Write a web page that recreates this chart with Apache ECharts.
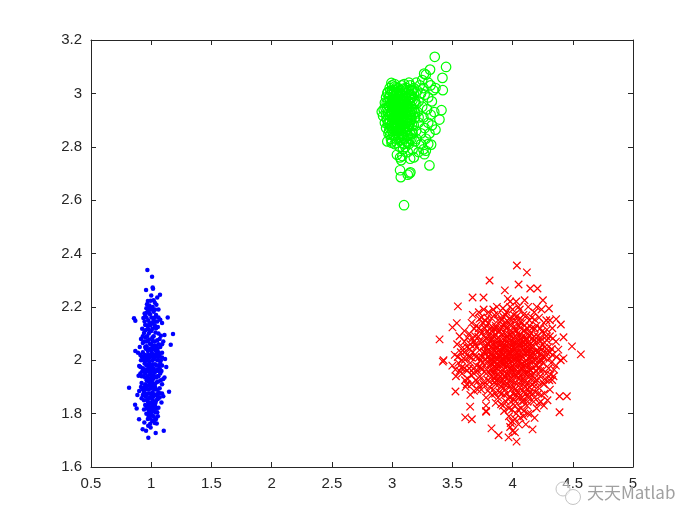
<!DOCTYPE html>
<html><head><meta charset="utf-8">
<style>html,body{margin:0;padding:0;background:#fff}#c{width:700px;height:525px}</style>
<script src="https://cdn.jsdelivr.net/npm/echarts@6/dist/echarts.min.js"></script></head>
<body><div id="c"></div>
<script>
const xTicks=[0.5,5];
const yTicks=[1.6,3.2];
const bluePoints=[[.968,2.338],[1.007,2.313],[1.012,2.273],[1.015,2.268],[.957,2.263],[1.073,2.245],[1.05,2.235],[1.0,2.243],[1.02,2.225],[.972,2.222],[.985,2.205],[1.043,2.208],[.96,2.195],[1.06,2.19],[.945,2.175],[1.02,2.182],[.99,2.172],[.935,2.158],[.857,2.157],[.868,2.148],[1.137,2.16],[1.075,2.152],[1.03,2.16],[.975,2.15],[1.09,2.14],[.95,2.132],[1.005,2.138],[.925,2.118],[1.055,2.125],[1.11,2.095],[1.181,2.098],[.985,2.112],[.94,2.102],[1.035,2.104],[1.08,2.092],[1.01,2.085],[.965,2.09],[.915,2.08],[1.05,2.075],[1.1,2.07],[1.162,2.058],[.93,2.065],[.99,2.062],[1.025,2.055],[1.075,2.05],[.905,2.05],[.955,2.043],[.868,2.035],[.89,2.028],[1.04,2.035],[1.005,2.028],[1.09,2.028],[.975,2.02],[.94,2.015],[1.06,2.012],[1.115,2.005],[.915,2.0],[1.02,2.004],[.985,1.995],[1.075,1.99],[.945,1.988],[.9,1.978],[1.045,1.98],[1.125,1.975],[1.005,1.972],[.965,1.965],[.925,1.958],[1.085,1.96],[1.03,1.955],[.99,1.948],[.895,1.942],[1.06,1.94],[.95,1.935],[1.11,1.935],[1.015,1.93],[.975,1.92],[1.045,1.918],[.92,1.915],[1.09,1.91],[.816,1.897],[.96,1.902],[1.002,1.9],[1.07,1.895],[1.025,1.89],[1.148,1.882],[.9,1.885],[.94,1.88],[.985,1.875],[.885,1.87],[1.055,1.872],[1.1,1.865],[1.015,1.862],[.92,1.858],[.965,1.852],[1.04,1.848],[1.085,1.842],[.995,1.838],[.866,1.833],[.95,1.832],[1.02,1.824],[1.06,1.822],[.879,1.819],[.98,1.812],[1.035,1.805],[.96,1.8],[1.005,1.795],[1.055,1.79],[.99,1.782],[.899,1.779],[1.02,1.775],[.943,1.767],[1.046,1.763],[.975,1.755],[.995,1.748],[.929,1.741],[.957,1.736],[1.104,1.736],[1.037,1.727],[.976,1.71],
[.98,2.1],[1.0,2.11],[1.02,2.09],[1.04,2.12],[.96,2.07],[.98,2.04],[1.0,2.06],[1.03,2.07],[.97,2.0],[1.01,2.0],[1.03,2.01],[.99,2.02],[.96,1.98],[1.0,1.96],[1.02,1.97],[.98,1.97],[1.04,1.96],[.97,1.94],[1.01,1.94],[.99,1.91],[1.03,1.91],[.95,1.96],[.98,1.89],[1.01,1.88],[.96,1.87],[1.04,1.87],[.99,1.86],[1.02,1.84],[.97,1.83],[1.0,1.82],[.93,2.03],[.94,2.0],[.93,1.97],[.92,1.94],[.93,1.89],[1.06,2.06],[1.07,2.02],[1.07,1.97],[1.06,1.92],[1.07,1.86],[.94,2.07],[1.06,2.1],[1.01,2.14],[.97,2.13],[1.0,2.19],[.98,2.18],[1.04,2.17],[1.03,2.13],[.96,2.16],[1.09,2.06],[1.09,1.98],[.91,2.02],[.91,1.95],[1.1,1.93],[.94,1.85],[.98,1.84],[1.03,1.83],[1.01,1.81],[.98,1.79],[1.02,1.79],[1.05,2.0],[.95,2.05],[1.0,2.04],[1.02,2.02],[.98,1.93],[1.05,1.94],[1.0,1.92],[1.0,1.86],[.95,1.91],[1.06,1.88]];
const blueCore=[[.972,2.118],[.992,2.13],[1.012,2.118],[1.032,2.144],[.952,2.112],[.972,2.072],[1.012,2.072],[1.042,2.052],[.962,2.052],[.982,2.078],[.972,2.035],[.992,2.044],[1.012,2.048],[1.03,2.04],[1.052,2.042],[.982,2.008],[1.002,2.014],[1.035,2.022],[.957,2.012],[.962,1.998],[.972,1.982],[.992,1.982],[1.012,1.985],[1.032,1.985],[1.052,1.965],[.982,1.96],[1.012,1.958],[.972,1.958],[1.022,1.942],[.992,1.932],[1.042,1.935],[1.002,1.945],[.962,1.925],[1.012,1.915],[.972,1.905],[1.032,1.9],[.992,1.895],[.952,1.89],[1.012,1.9],[1.045,1.89],[.972,1.875],[1.002,1.872],[1.03,1.872],[.982,1.858],[1.012,1.848],[1.052,1.858],[.952,1.865],[.972,1.845],[1.002,1.842],[1.035,1.84],[.985,1.825],[1.012,1.832],[.96,1.82],[1.04,1.82],[1.0,1.805],[1.018,1.81],[.985,1.8],[.972,1.78],[1.008,1.772],[.992,1.762],[1.03,1.765],[.982,2.2],[1.012,2.2],[1.032,2.19],[.972,2.19],[.962,2.178],[1.002,2.16],[1.02,2.15],[.985,2.14],[1.05,2.145],[.945,2.145],[.93,2.09],[.95,2.085],[1.07,2.08],[1.06,2.03],[1.08,2.0],[1.09,2.01],[.92,2.015],[.93,2.005],[.91,1.975],[.94,1.965],[1.075,1.95],[1.06,1.96],[1.08,1.925],[.935,1.94],[.915,1.9],[.945,1.9],[1.075,1.875],[1.09,1.875],[1.055,1.855],[.93,1.87],[.94,1.815],[1.05,1.805],[1.04,1.78],[.995,2.223],[1.03,2.215],[.965,2.21],[.95,2.165],[1.06,2.16],[.95,2.02],[1.05,2.02],[1.06,1.98],[.95,1.95]];
const greenPoints=[[3.354,3.137],[3.448,3.099],[3.315,3.089],[3.418,3.058],[3.266,3.074],[3.28,3.07],[3.25,3.05],[3.421,3.012],[3.343,3.012],[3.32,3.03],[3.3,3.04],[3.36,3.02],[3.41,2.937],[3.393,2.902],[3.36,2.864],[3.324,2.808],[3.268,2.772],[3.28,2.785],[3.31,2.73],[3.066,2.76],[3.085,2.765],[3.075,2.75],[3.066,2.712],[3.072,2.686],[3.144,2.70],[3.152,2.704],[3.13,2.695],[3.099,2.581],[2.994,3.039],[3.0,3.03],[2.914,2.931],[2.93,2.94],[2.925,2.915],[2.94,2.965],[2.95,2.985],[2.965,3.005],[2.98,3.02],[3.02,3.025],[3.05,3.02],[3.08,3.03],[3.12,3.02],[3.15,3.03],[3.18,3.02],[3.21,3.01],[3.24,3.0],[3.27,2.995],[3.3,2.985],[3.33,2.97],[3.22,2.97],[3.25,2.95],[3.29,2.94],[3.32,2.92],[3.35,2.93],[3.21,2.93],[3.26,2.91],[3.3,2.89],[3.33,2.88],[3.22,2.89],[3.27,2.87],[3.31,2.85],[3.24,2.85],[3.2,2.86],[3.28,2.83],[3.3,2.81],[3.24,2.81],[3.19,2.82],[3.26,2.79],[3.22,2.78],[3.17,2.79],[3.13,2.78],[3.09,2.79],[3.18,2.76],[3.15,2.755],[3.06,2.8],[3.02,2.81],[2.99,2.83],[2.97,2.85],[2.95,2.87],[2.94,2.89],[2.96,2.82],[3.04,2.77],[3.11,2.8],[3.08,2.815],[3.14,2.81],[3.05,2.83],[3.01,2.845],[3.1,2.83],[3.16,2.83],[3.13,2.84],[2.98,2.87],[3.03,2.86],[3.07,2.85],[3.11,2.86],[3.15,2.86],[3.18,2.88],[2.96,2.9],[3.0,2.89],[3.04,2.885],[3.08,2.88],[3.12,2.89],[3.16,2.9],[3.19,2.91],[2.95,2.92],[2.98,2.915],[3.02,2.91],[3.06,2.905],[3.1,2.91],[3.14,2.92],[3.18,2.94],[2.96,2.945],[3.0,2.94],[3.04,2.93],[3.08,2.935],[3.12,2.945],[3.16,2.95],[2.97,2.97],[3.01,2.965],[3.05,2.955],[3.09,2.96],[3.13,2.97],[3.17,2.975],[3.2,2.96],[2.985,2.995],[3.02,2.99],[3.06,2.98],[3.1,2.99],[3.14,2.995],[3.18,3.0],[3.0,3.01],[3.04,3.005],[3.08,3.01],[3.12,3.0],[3.16,3.01],
[3.03,2.97],[3.07,2.96],[3.02,2.95],[3.06,2.94],[3.1,2.94],[3.03,2.92],[3.07,2.92],[3.11,2.925],[3.0,2.92],[3.05,2.9],[3.09,2.9],[3.13,2.9],[3.01,2.9],[3.03,2.89],[3.07,2.87],[3.1,2.87],[3.04,2.86],[3.0,2.86],[2.97,2.89],[3.15,2.93],[3.11,2.97],[3.15,2.98],[3.07,3.0],[3.03,2.98],[3.0,2.97],[2.98,2.95],[3.09,2.98],[3.05,2.99],[3.01,3.0],[3.19,2.97],[3.19,2.93],[3.17,2.92],[3.22,2.91],[3.14,2.875],[3.17,2.85],[3.2,2.83],[3.12,2.82],[3.08,2.84],[3.03,2.83],[3.0,2.82],[3.23,3.03],[3.2,3.04],[3.26,3.02]];
const greenCore=[[2.985,3.01],[3.015,3.012],[3.035,3.022],[3.065,3.012],[3.095,3.018],[3.115,3.012],[3.14,3.012],[3.172,3.012],[2.975,2.985],[3.005,2.985],[3.035,2.995],[3.055,2.992],[3.085,2.995],[3.115,2.985],[3.155,2.995],[3.165,2.985],[2.955,2.965],[2.985,2.97],[3.015,2.975],[3.045,2.972],[3.075,2.975],[3.105,2.972],[3.125,2.958],[3.145,2.965],[3.185,2.965],[2.945,2.945],[2.975,2.952],[3.005,2.955],[3.035,2.958],[3.065,2.95],[3.095,2.948],[3.135,2.95],[3.165,2.94],[2.965,2.93],[2.99,2.93],[3.015,2.935],[3.045,2.94],[3.075,2.94],[3.105,2.93],[3.125,2.93],[3.155,2.92],[2.955,2.905],[2.98,2.9],[3.01,2.91],[3.04,2.915],[3.07,2.905],[3.095,2.915],[3.125,2.91],[3.15,2.9],[2.965,2.885],[2.99,2.88],[3.02,2.885],[3.05,2.88],[3.075,2.885],[3.105,2.89],[3.135,2.885],[3.165,2.88],[2.975,2.86],[3.01,2.865],[3.04,2.87],[3.06,2.865],[3.09,2.865],[3.125,2.865],[3.155,2.845],[2.985,2.845],[3.02,2.84],[3.055,2.845],[3.09,2.845],[3.12,2.845],[3.145,2.83],[2.995,2.815],[3.04,2.815],[3.07,2.825],[3.1,2.81],[3.13,2.815],[3.03,3.0],[3.06,2.96],[3.08,2.95],[3.05,2.945],[3.04,2.95],[3.08,2.92],[3.05,2.925],[3.03,2.905],[3.06,2.92],[3.09,2.93],[3.02,2.93],[3.1,2.96],[3.12,2.96],[3.09,2.895],[3.06,2.89],[3.04,2.9],[3.02,2.965],[3.12,2.935],[3.07,2.97],[3.05,2.965],[3.09,2.97],[3.03,2.94],[3.01,2.95],[2.99,2.96],[3.11,2.905],[3.07,2.895],[3.03,2.875],[3.0,2.875],[3.13,2.875],[2.96,3.0],[3.14,3.04],[3.02,3.035],[3.1,3.035]];
const redPoints=[[4.036,2.355],[4.119,2.329],[3.809,2.299],[4.05,2.284],[3.936,2.262],[4.147,2.269],[4.207,2.269],[3.668,2.235],[3.759,2.235],[3.546,2.202],[4.252,2.225],[4.302,2.194],[3.501,2.123],[3.537,2.139],[3.394,2.078],[3.427,2.0],[3.421,1.995],[4.567,2.022],[4.493,2.052],[4.423,2.086],[4.401,2.134],[4.362,2.154],[4.423,2.007],[3.526,1.883],[3.648,1.826],[3.781,1.807],[3.607,1.786],[3.662,1.779],[3.825,1.745],[3.884,1.719],[3.967,1.711],[4.033,1.695],[4.166,1.741],[4.183,1.784],[4.39,1.805],[4.39,1.865],[4.451,1.865],[4.329,1.926],
[3.96,2.23],[3.98,2.22],[4.03,2.22],[4.1,2.225],[3.87,2.2],[3.92,2.195],[3.76,2.19],[3.72,2.18],[3.67,2.17],[3.8,2.18],[3.85,2.17],[3.95,2.18],[4.0,2.19],[4.06,2.19],[4.13,2.2],[4.18,2.18],[4.24,2.19],[4.28,2.15],[4.31,2.15],[4.26,2.14],[3.66,2.14],[3.7,2.13],[3.75,2.14],[3.8,2.14],[3.86,2.13],[3.91,2.15],[3.97,2.14],[4.02,2.15],[4.08,2.14],[4.14,2.15],[4.2,2.13],[4.33,2.12],[3.6,2.11],[3.56,2.09],[3.64,2.1],[3.69,2.09],[3.74,2.1],[3.79,2.11],[3.84,2.09],[3.89,2.11],[3.94,2.1],[3.99,2.11],[4.04,2.1],[4.09,2.11],[4.15,2.1],[4.21,2.09],[4.26,2.1],[4.31,2.09],[4.36,2.07],[3.54,2.06],[3.6,2.07],[3.65,2.06],[3.7,2.05],[3.75,2.07],[3.8,2.06],[3.85,2.07],[3.9,2.06],[3.95,2.07],[4.0,2.06],[4.05,2.07],[4.1,2.06],[4.15,2.05],[4.2,2.07],[4.25,2.06],[4.3,2.05],[4.38,2.04],[3.52,2.02],[3.57,2.03],[3.62,2.02],[3.67,2.03],[3.72,2.01],[3.77,2.03],[3.82,2.02],[3.87,2.03],[3.92,2.02],[3.97,2.03],[4.02,2.02],[4.07,2.03],[4.12,2.02],[4.17,2.03],[4.22,2.02],[4.27,2.01],[4.33,2.02],[4.4,2.0],[3.5,1.98],[3.55,1.99],[3.6,1.97],[3.65,1.99],[3.7,1.98],[3.75,1.99],[3.8,1.98],[3.85,1.99],[3.9,1.98],[3.95,1.99],[4.0,1.98],[4.05,1.99],[4.1,1.98],[4.15,1.99],[4.2,1.98],[4.25,1.99],[4.3,1.97],[4.36,1.98],[3.53,1.94],[3.58,1.95],[3.63,1.93],[3.68,1.95],[3.73,1.94],[3.78,1.95],[3.83,1.94],[3.88,1.95],[3.93,1.94],[3.98,1.95],[4.03,1.94],[4.08,1.95],[4.13,1.94],[4.18,1.95],[4.23,1.94],[4.28,1.95],[4.34,1.94],[3.61,1.9],[3.66,1.91],[3.71,1.89],[3.76,1.91],[3.81,1.9],[3.86,1.91],[3.91,1.9],[3.96,1.91],[4.01,1.9],[4.06,1.91],[4.11,1.9],[4.16,1.91],[4.21,1.9],[4.26,1.91],[4.31,1.89],[3.65,1.87],[3.78,1.86],[3.83,1.87],[3.88,1.86],[3.93,1.87],[3.98,1.86],[4.03,1.87],[4.08,1.86],[4.13,1.87],[4.18,1.86],[4.24,1.87],[4.29,1.85],[3.78,1.83],[3.92,1.83],[3.97,1.82],[4.02,1.83],[4.07,1.82],[4.12,1.83],[4.2,1.82],[4.26,1.83],[3.78,1.81],[3.97,1.79],[4.03,1.8],[4.09,1.79],[4.13,1.8],[4.0,1.77],[4.05,1.76],[4.11,1.76],[3.98,1.75],[4.02,1.73],
[3.84,2.04],[3.89,2.04],[3.94,2.05],[3.99,2.04],[4.04,2.05],[4.09,2.04],[3.86,2.01],[3.91,2.0],[3.96,2.01],[4.01,2.0],[4.06,2.01],[4.11,2.0],[4.16,2.01],[3.81,2.0],[3.76,2.05],[4.14,2.07],[3.87,2.08],[3.92,2.08],[3.97,2.08],[4.02,2.09],[4.07,2.08],[4.12,2.08],[4.18,2.09],[3.82,1.96],[3.87,1.97],[3.92,1.96],[3.97,1.97],[4.02,1.96],[4.07,1.97],[4.12,1.96],[4.17,1.97],[3.85,1.93],[3.9,1.92],[3.95,1.93],[4.0,1.92],[4.05,1.93],[4.1,1.92],[4.15,1.93],[3.73,2.07],[3.68,2.07],[3.78,2.08],[3.72,2.12],[3.77,2.12],[3.82,2.12],[3.88,2.15],[3.93,2.13],[3.99,2.13],[4.05,2.13],[4.1,2.13],[4.16,2.12],[4.23,2.12],[3.74,2.16],[3.79,2.16],[3.94,2.17],[4.01,2.17],[4.09,2.17],[4.16,2.16],[4.22,2.16],[3.62,2.05],[3.58,2.0],[3.66,2.01],[3.71,1.96],[3.76,1.92],[3.81,1.92],[3.71,1.92],[4.24,2.04],[4.28,2.03],[4.23,1.96],[4.27,1.93],[4.19,1.92],[4.19,2.0],[3.99,1.89],[4.04,1.88],[4.09,1.88],[4.14,1.88],[3.94,1.89],[3.89,1.88],[3.84,1.89],[4.19,1.88]];
const redCore=[[3.725,2.155],[3.775,2.148],[3.825,2.158],[3.875,2.172],[3.925,2.162],[3.975,2.158],[4.035,2.165],[4.065,2.158],[4.115,2.168],[4.185,2.152],[3.682,2.118],[3.735,2.112],[3.785,2.128],[3.845,2.118],[3.905,2.128],[3.955,2.122],[4.015,2.128],[4.065,2.122],[4.125,2.118],[4.185,2.118],[4.245,2.108],[4.285,2.115],[3.625,2.085],[3.665,2.082],[3.715,2.088],[3.765,2.092],[3.815,2.085],[3.865,2.095],[3.915,2.098],[3.955,2.088],[4.005,2.082],[4.055,2.095],[4.105,2.088],[4.165,2.082],[4.235,2.082],[4.285,2.075],[4.335,2.082],[3.585,2.048],[3.645,2.042],[3.725,2.038],[3.785,2.048],[3.825,2.052],[3.865,2.052],[3.915,2.045],[3.965,2.052],[4.015,2.042],[4.065,2.052],[4.125,2.048],[4.175,2.052],[4.225,2.045],[4.265,2.048],[4.325,2.042],[3.545,2.012],[3.605,2.002],[3.645,2.012],[3.695,2.012],[3.745,2.012],[3.795,2.012],[3.845,2.012],[3.895,2.012],[3.945,2.012],[3.985,2.015],[4.035,2.012],[4.085,2.012],[4.135,2.005],[4.215,1.998],[4.255,2.012],[4.305,2.005],[4.365,2.012],[3.525,1.965],[3.575,1.972],[3.625,1.962],[3.675,1.968],[3.725,1.975],[3.785,1.965],[3.835,1.972],[3.885,1.965],[3.935,1.975],[3.985,1.968],[4.035,1.975],[4.085,1.965],[4.145,1.965],[4.195,1.962],[4.255,1.965],[4.315,1.945],[4.345,1.965],[3.605,1.925],[3.655,1.945],[3.695,1.925],[3.745,1.965],[3.795,1.925],[3.845,1.955],[3.875,1.925],[3.925,1.915],[3.975,1.925],[4.025,1.915],[4.075,1.925],[4.125,1.915],[4.205,1.925],[4.255,1.915],[4.305,1.925],[3.68,1.885],[3.725,1.905],[3.795,1.885],[3.855,1.875],[3.905,1.875],[3.955,1.875],[4.005,1.875],[4.055,1.875],[4.105,1.875],[4.165,1.875],[4.215,1.875],[4.265,1.875],[3.945,1.845],[3.985,1.845],[4.025,1.845],[4.075,1.845],[4.125,1.845],[4.175,1.845],[4.235,1.845],[3.905,1.835],[3.995,1.815],[4.045,1.815],[4.095,1.81],[4.02,1.78],[4.065,1.785],[3.985,1.765],[4.0,1.735],
[3.985,2.028],[3.955,2.035],[3.975,2.045],[4.005,2.035],[4.025,2.045],[4.045,2.025],[4.075,2.045],[4.105,2.03],[3.935,2.03],[3.905,2.035],[3.885,2.02],[3.96,2.0],[3.99,1.998],[4.02,2.005],[4.05,2.0],[3.93,2.0],[3.905,1.998],[3.875,2.005],[3.845,1.998],[3.815,2.035],[3.855,2.035],[3.965,2.065],[3.995,2.07],[4.025,2.065],[4.055,2.06],[4.085,2.07],[3.935,2.06],[3.875,2.065],[3.825,2.075],[3.925,1.985],[3.965,1.985],[4.015,1.985],[4.07,1.985],[4.12,1.985],[3.875,1.985],[3.825,1.985],[3.775,2.005],[3.735,2.0],[3.795,2.06],[4.135,2.035],[4.155,2.02],[4.195,2.035],[4.24,2.0],[3.95,1.95],[4.0,1.945],[4.05,1.955],[3.92,1.95],[3.86,1.94],[4.1,1.95],[4.16,1.945],[3.985,2.095],[4.035,2.11],[4.085,2.09],[3.945,2.12],[3.885,2.105],[3.835,2.105],[4.14,2.13],[3.69,2.06],[3.64,1.97],[3.62,1.91],[3.74,1.89],[4.31,2.03],[4.32,1.99],[4.28,2.09],[3.6,2.03],[3.56,1.96],[3.93,1.81],[4.15,1.8],[4.22,1.84],[3.86,1.84],[3.98,2.2],[4.05,2.2],[3.84,2.19],[4.2,2.2]];
const redDense=[[3.812,2.072],[3.842,2.058],[3.892,2.078],[3.912,2.062],[3.942,2.082],[3.972,2.095],[4.012,2.068],[4.042,2.082],[4.072,2.062],[4.112,2.074],[4.142,2.058],[4.172,2.072],[3.792,2.032],[3.832,2.018],[3.862,2.044],[3.902,2.024],[3.932,2.044],[3.962,2.022],[4.002,2.048],[4.032,2.028],[4.062,2.018],[4.092,2.052],[4.122,2.032],[4.152,2.042],[4.182,2.018],[4.212,2.032],[3.792,1.992],[3.832,2.002],[3.862,1.972],[3.892,1.992],[3.922,2.008],[3.952,1.978],[3.982,2.004],[4.012,1.972],[4.042,2.008],[4.072,1.972],[4.102,1.992],[4.132,1.978],[4.162,1.998],[4.192,1.982],[3.812,1.948],[3.852,1.918],[3.892,1.938],[3.922,1.928],[3.962,1.948],[3.992,1.932],[4.022,1.948],[4.062,1.942],[4.092,1.932],[4.122,1.952],[4.152,1.962],[4.182,1.932],[3.902,1.902],[3.942,1.908],[3.982,1.902],[4.022,1.892],[4.062,1.898],[4.102,1.902],[4.142,1.898],[4.182,1.902],[3.902,2.118],[3.942,2.142],[3.982,2.152],[4.022,2.112],[4.062,2.142],[4.102,2.112],[4.142,2.092],[3.862,2.122],[3.802,2.098],[3.762,2.032],[3.742,1.972],[4.232,2.072],[4.242,2.022],[4.222,1.972],[3.972,1.862],[4.012,1.852],[4.052,1.862],[4.092,1.848],[4.132,1.858]];
const chart=echarts.init(document.getElementById('c'),null,{renderer:'canvas'});
const axisCol='#262626';
const base={axisLine:{show:true,onZero:false,lineStyle:{color:axisCol,width:1}},splitLine:{show:false}};
const labelStyle={color:axisCol,fontFamily:'Liberation Sans, Arial, sans-serif',fontSize:15};
const xBase={...base,type:'value',min:xTicks[0],max:xTicks[1],interval:0.5,axisTick:{inside:true,length:5,lineStyle:{color:axisCol,width:1}}};
const yBase={...base,type:'value',min:yTicks[0],max:yTicks[1],interval:0.2,axisTick:{inside:true,length:5,lineStyle:{color:axisCol,width:1}}};
const fmt=v=>String(+v.toFixed(1));
chart.setOption({
 animation:false,
 backgroundColor:'#fff',
 grid:{left:91,right:67,top:40,bottom:58,containLabel:false},
 xAxis:[{...xBase,position:'bottom',axisLabel:{...labelStyle,margin:9,formatter:fmt,showMinLabel:true,showMaxLabel:true}},
        {...xBase,position:'top',axisLabel:{show:false}}],
 yAxis:[{...yBase,position:'left',axisLabel:{...labelStyle,margin:9,formatter:fmt,showMinLabel:true,showMaxLabel:true}},
        {...yBase,position:'right',axisLabel:{show:false}}],
 graphic:[
  {type:'text',z:100,left:587,top:484,style:{text:'天天Matlab',fill:'#a0a0a0',font:'17px "Noto Sans CJK SC", "Liberation Sans", sans-serif'}},
  {type:'circle',z:100,shape:{cx:563,cy:489,r:7},style:{fill:'rgba(255,255,255,0.55)',stroke:'#c4c4c4',lineWidth:1}},
  {type:'circle',z:100,shape:{cx:573,cy:497,r:7.5},style:{fill:'rgba(255,255,255,0.55)',stroke:'#c4c4c4',lineWidth:1}}
 ],
 series:[
  {type:'scatter',data:bluePoints.concat(blueCore),symbol:'circle',symbolSize:4.5,itemStyle:{color:'#0000ff',opacity:1},silent:true},
  {type:'scatter',data:greenPoints.concat(greenCore),symbol:'circle',symbolSize:9.5,itemStyle:{color:'rgba(0,0,0,0)',borderColor:'#00ff00',borderWidth:1.2,opacity:1},silent:true},
  {type:'scatter',data:redPoints.concat(redCore,redDense),symbol:'path://M0 0L10 10M10 0L0 10',symbolSize:7.5,itemStyle:{color:'#ff0000',borderColor:'#ff0000',borderWidth:1.2,opacity:1},silent:true}
 ]
});
</script></body></html>
